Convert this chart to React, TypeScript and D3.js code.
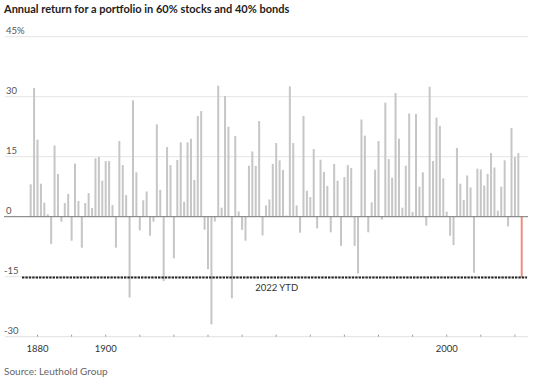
import React from "react";
import * as d3 from "d3";

const TITLE = "Annual return for a portfolio in 60% stocks and 40% bonds";
const SOURCE = "Source: Leuthold Group";
const FIRST_YEAR = 1878;
const RETURNS: number[] = [
  8.1, 32.2, 19.25, 8.25, 3.5, 0.6, -6.8, 17.8, 10.7, -1.25,
  3.4, 5.7, -6, 13.25, 3.9, -7.75, 3.4, 5.9, 2.2, 14.6,
  14.9, 9, 13.9, 13.9, 2.9, -7.75, 18.9, 12.9, 5.4, -20.2,
  29.1, 11.1, -3.4, 4.1, 6.3, -4.75, -1.25, 23.1, 6.7, -16.1,
  17.4, 12.9, -10.4, 14.2, 18.6, 3.7, 18.6, 19.5, 9.2, 25.2,
  26.4, -3.25, -13.1, -26.9, -1.2, 32.75, 2.25, 30.2, 22.5, -20.4,
  20.2, 1.3, -3.3, -6, 12.75, 16.3, 12.7, 23.9, -4.7, 2.8,
  4.3, 13.2, 18.4, 14.1, 11.7, 0.3, 32.6, 18.4, 2.8, -4,
  25.2, 6.5, 4.9, 16.9, -2.9, 14.25, 11.2, 7.7, -3.9, 13.2,
  9, -7.3, 9.9, 12.9, 12.2, -7.3, -14.2, 24.3, 20.25, -3.9,
  3.6, 11.75, 18.9, -0.7, 28.5, 14.4, 9.75, 30.9, 19.5, 2.25,
  12.75, 25.8, 1.2, 25.7, 7.5, 11.1, -2.25, 32.5, 13.9, 24.75,
  22.7, 9.6, 1.25, -4.75, -7.1, 17.2, 8.25, 4.2, 10.3, 7.3,
  -14, 12, 11.8, 7.8, 10.7, 15.9, 12.3, 1.5, 7.5, 14.1,
  -2.4, 22.2, 14.9, 15.9, -15.2,
];
const YEARS: number[] = RETURNS.map((_, i) => FIRST_YEAR + i);
const Y_TICKS = [45, 30, 15, 0, -15, -30];
const X_TICKS = [1880, 1890, 1900, 1910, 1920, 1930, 1940, 1950, 1960, 1970, 1980, 1990, 2000, 2010, 2020];
const X_LABELS = [1880, 1900, 2000];
const YTD_LABEL = "2022 YTD";
const YTD_VALUE = RETURNS[RETURNS.length - 1];

const W = 537;
const H = 380;
const FONT = "Lato, 'Open Sans', sans-serif";

export default function App() {
  const x = d3.scaleLinear().domain([1880, 2000]).range([37.5, 446.7]);
  const y = d3.scaleLinear().domain([-30, 45]).range([336.7, 36.7]);
  const gridL = 5;
  const gridR = 528;
  const barW = 2;
  const lastYear = YEARS[YEARS.length - 1];

  return (
    <svg
      width={W}
      height={H}
      style={{ position: "absolute", left: 0, top: 0, background: "#fff" }}
      fontFamily={FONT}
    >
      <text x={4} y={13} fontSize={11} fontWeight={700} fill="#222">
        {TITLE}
      </text>
      {Y_TICKS.filter((t) => t !== 0 && t !== -30).map((t) => (
        <line key={"g" + t} x1={gridL} x2={gridR} y1={y(t)} y2={y(t)} stroke="#e4e4e4" strokeWidth={1} />
      ))}
      <line x1={gridL} x2={gridR} y1={y(-30)} y2={y(-30)} stroke="#e0e0e0" strokeWidth={1} />
      {X_TICKS.map((t) => (
        <line key={"xt" + t} x1={x(t)} x2={x(t)} y1={y(-30) - 2} y2={y(-30)} stroke="#999" strokeWidth={1} />
      ))}
      {Y_TICKS.map((t) => (
        <text key={"yl" + t} x={t < 0 ? 4 : 6} y={y(t) - 2.5} fontSize={9.5} fill="#555">
          {t === 45 ? "45%" : String(t)}
        </text>
      ))}
      {YEARS.map((yr, i) => {
        const v = RETURNS[i];
        const isLast = yr === lastYear;
        return (
          <rect
            key={yr}
            x={x(yr) - barW / 2}
            y={Math.min(y(v), y(0))}
            width={barW}
            height={Math.abs(y(v) - y(0))}
            fill={isLast ? "#ec8f80" : "#c6c6c6"}
          />
        );
      })}
      <line x1={4} x2={gridR} y1={y(0)} y2={y(0)} stroke="#777" strokeWidth={1} />
      <line
        x1={22}
        x2={527}
        y1={y(YTD_VALUE)}
        y2={y(YTD_VALUE)}
        stroke="#222"
        strokeWidth={2}
        strokeDasharray="2.4,1"
      />
      <text x={276.7} y={y(YTD_VALUE) + 13} fontSize={9.5} fill="#333" textAnchor="middle">
        {YTD_LABEL}
      </text>
      {X_LABELS.map((t) => (
        <text key={"xl" + t} x={x(t)} y={352} fontSize={9.5} fill="#333" textAnchor="middle">
          {t}
        </text>
      ))}
      <text x={4} y={375} fontSize={10} fill="#666">
        {SOURCE}
      </text>
    </svg>
  );
}
